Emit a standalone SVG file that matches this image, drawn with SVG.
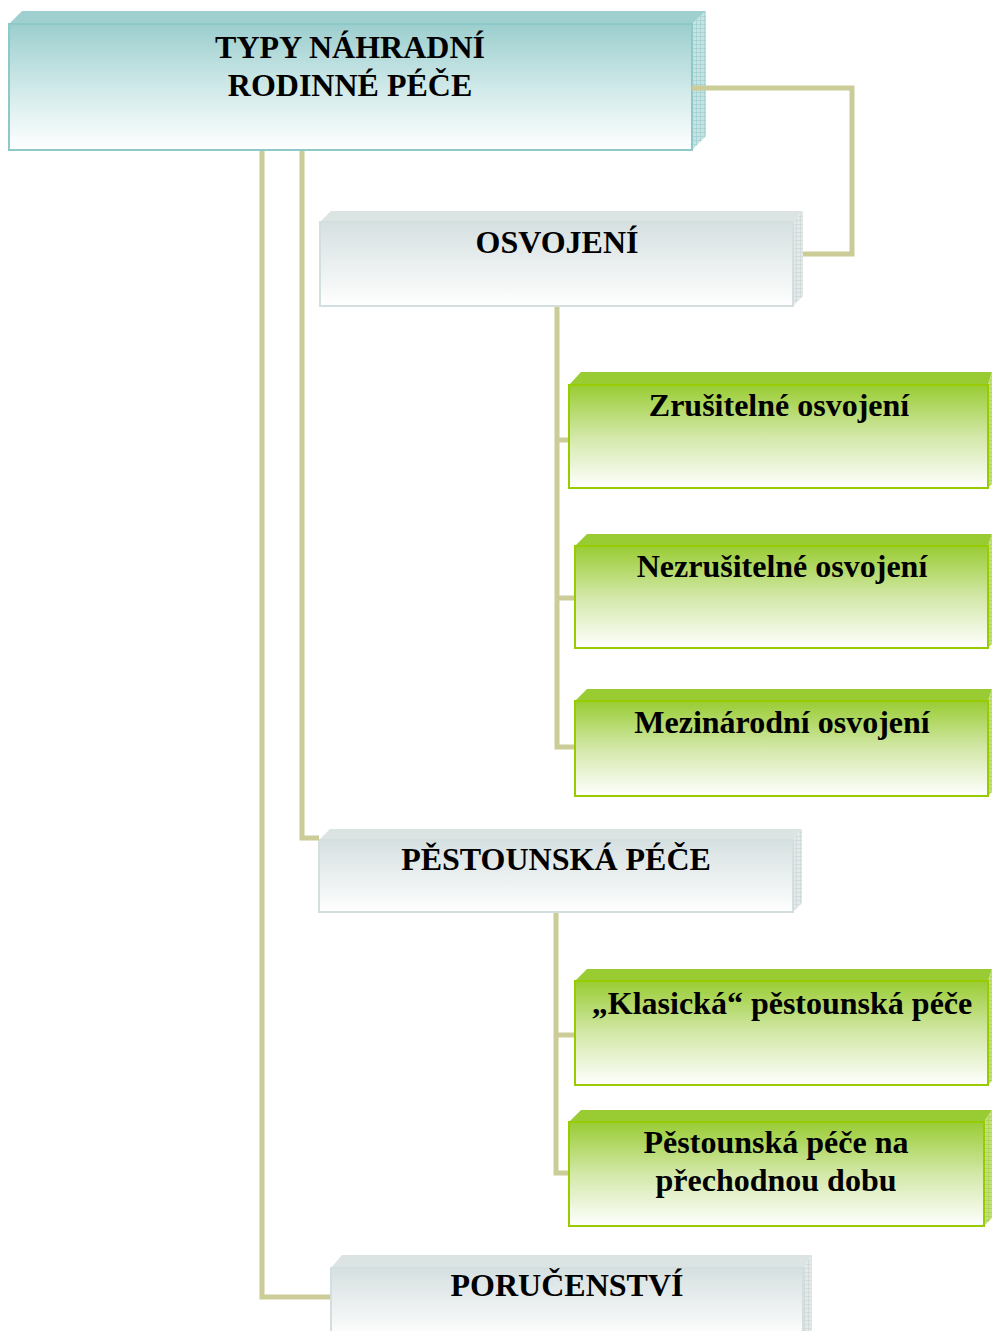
<svg xmlns="http://www.w3.org/2000/svg" width="992" height="1331" viewBox="0 0 992 1331">
<style>
.t{font-family:"Liberation Serif","Times New Roman",serif;font-weight:bold;font-size:32px;fill:#000;text-anchor:middle}
.con{fill:none;stroke:#cccc99;stroke-width:5}
.tealF{fill:url(#gTeal);stroke:#8ec9c9;stroke-width:2}
.tealT{fill:#9fcfcf}
.tealS{fill:url(#pTeal)}
.greyF{fill:url(#gGrey);stroke:#d3dede;stroke-width:2}
.greyT{fill:#dbe3e3}
.greyS{fill:url(#pGrey)}
.grnF{fill:url(#gGreen);stroke:#99cc00;stroke-width:2}
.grnT{fill:#99cc33}
.grnS{fill:url(#pGreen)}
</style>
<defs>
<linearGradient id="gTeal" x1="0" y1="0" x2="0" y2="1">
<stop offset="0" stop-color="#9ccece"/>
<stop offset="0.55" stop-color="#d4ebeb"/>
<stop offset="1" stop-color="#ffffff"/>
</linearGradient>
<linearGradient id="gGrey" x1="0" y1="0" x2="0" y2="1">
<stop offset="0" stop-color="#d6e0e1"/>
<stop offset="0.6" stop-color="#eef2f2"/>
<stop offset="1" stop-color="#ffffff"/>
</linearGradient>
<linearGradient id="gGreen" x1="0" y1="0" x2="0" y2="1">
<stop offset="0" stop-color="#99cc33"/>
<stop offset="0.5" stop-color="#d3e8a8"/>
<stop offset="1" stop-color="#ffffff"/>
</linearGradient>
<pattern id="pTeal" width="4" height="4" patternUnits="userSpaceOnUse">
<rect width="4" height="4" fill="#c4e3e3"/>
<path d="M0 0h4M0 0v4" stroke="#96c8c8" stroke-width="1"/>
</pattern>
<pattern id="pGrey" width="4" height="4" patternUnits="userSpaceOnUse">
<rect width="4" height="4" fill="#e3e9e9"/>
<path d="M0 0h4M0 0v4" stroke="#c6d0d0" stroke-width="1"/>
</pattern>
<pattern id="pGreen" width="4" height="4" patternUnits="userSpaceOnUse">
<rect width="4" height="4" fill="#c2e07a"/>
<path d="M0 0h4M0 0v4" stroke="#9ccc3c" stroke-width="1"/>
</pattern>
</defs>

<g id="n-root">
<polygon class="tealT" points="9,24 22,11 706,11 692,24"/>
<polygon class="tealS" points="692,24 706,11 706,136 692,150"/>
<rect class="tealF" x="9" y="24" width="683" height="126"/>
<text class="t" x="350" y="58">TYPY NÁHRADNÍ</text>
<text class="t" x="350" y="96">RODINNÉ PÉČE</text>
</g>

<g id="n-osvojeni">
<polygon class="greyT" points="320,222 331,211 803,211 793,222"/>
<polygon class="greyS" points="793,222 803,211 803,296 793,306"/>
<rect class="greyF" x="320" y="222" width="473" height="84"/>
<text class="t" x="557" y="253">OSVOJENÍ</text>
</g>

<g id="n-zrusitelne">
<polygon class="grnT" points="569,385 581,372 992,372 988,385"/>
<polygon class="grnS" points="988,385 992,372 992,484 988,488"/>
<rect class="grnF" x="569" y="385" width="419" height="103"/>
<text class="t" x="779" y="416">Zrušitelné osvojení</text>
</g>

<g id="n-nezrusitelne">
<polygon class="grnT" points="575,546 587,534 992,534 988,546"/>
<polygon class="grnS" points="988,546 992,534 992,644 988,648"/>
<rect class="grnF" x="575" y="546" width="413" height="102"/>
<text class="t" x="782" y="577">Nezrušitelné osvojení</text>
</g>

<g id="n-mezinarodni">
<polygon class="grnT" points="575,701 587,689 992,689 988,701"/>
<polygon class="grnS" points="988,701 992,689 992,792 988,796"/>
<rect class="grnF" x="575" y="701" width="413" height="95"/>
<text class="t" x="782" y="733">Mezinárodní osvojení</text>
</g>

<g id="n-pestounska">
<polygon class="greyT" points="319,840 330,829 802,829 793,840"/>
<polygon class="greyS" points="793,840 802,829 802,903 793,912"/>
<rect class="greyF" x="319" y="840" width="474" height="72"/>
<text class="t" x="556" y="870">PĚSTOUNSKÁ PÉČE</text>
</g>

<g id="n-klasicka">
<polygon class="grnT" points="575,981 587,969 992,969 988,981"/>
<polygon class="grnS" points="988,981 992,969 992,1081 988,1085"/>
<rect class="grnF" x="575" y="981" width="413" height="104"/>
<text class="t" x="782" y="1014">„Klasická“ pěstounská péče</text>
</g>

<g id="n-prechodna">
<polygon class="grnT" points="569,1122 581,1110 992,1110 984,1122"/>
<polygon class="grnS" points="984,1122 992,1110 992,1218 984,1226"/>
<rect class="grnF" x="569" y="1122" width="415" height="104"/>
<text class="t" x="776" y="1153">Pěstounská péče na</text>
<text class="t" x="776" y="1191">přechodnou dobu</text>
</g>

<g id="n-porucenstvi">
<polygon class="greyT" points="331,1268 342,1255 812,1255 803,1268"/>
<polygon class="greyS" points="803,1268 812,1255 812,1331 803,1331"/>
<rect class="greyF" x="331" y="1268" width="472" height="70"/>
<text class="t" x="567" y="1296">PORUČENSTVÍ</text>
</g>

<g id="connectors">
<path class="con" d="M692 88H852V254H803"/>
<path class="con" d="M262 151V1297H330"/>
<path class="con" d="M302 151V838H319"/>
<path class="con" d="M557 307V747H574"/>
<path class="con" d="M557 440H568"/>
<path class="con" d="M557 598H574"/>
<path class="con" d="M556 913V1173H568"/>
<path class="con" d="M556 1035H574"/>
</g>
</svg>
